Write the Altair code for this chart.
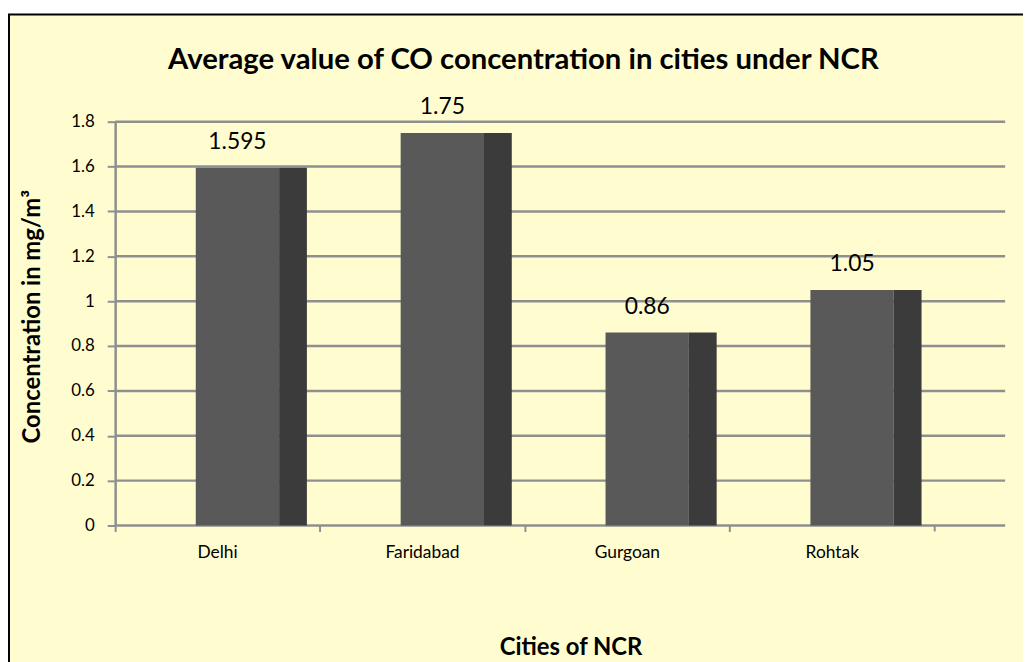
import altair as alt
import pandas as pd

cities = ["Delhi", "Faridabad", "Gurgoan", "Rohtak"]
co_values = [1.595, 1.75, 0.86, 1.05]
y_ticks = [0, 0.2, 0.4, 0.6, 0.8, 1.0, 1.2, 1.4, 1.6, 1.8]
chart_title = "Average value of CO concentration in cities under NCR"

FONT = "Lato"
W, H = 897, 407
BAND_RANGE = 826
YELLOW = "#FFFDCF"
GRID = "#8f8f8f"

df = pd.DataFrame({"city": cities, "value": co_values})
grid_df = pd.DataFrame({"value": y_ticks})
one = pd.DataFrame({"t": [chart_title]})

xscale = alt.Scale(domain=cities, range=[0, BAND_RANGE], paddingInner=0, paddingOuter=0)
yscale = alt.Scale(domain=[0, 1.8], nice=False, zero=True)

y_axis = alt.Axis(
    title="Concentration in mg/m³", values=y_ticks, labelExpr="format(datum.value, '~g')",
    domain=True, domainColor=GRID, domainWidth=2.5, ticks=True, tickSize=8,
    tickColor=GRID, tickWidth=2, labelPadding=13, labelFont=FONT, labelFontSize=17,
    labelColor="black", grid=False,
    titleFont=FONT, titleFontSize=24, titleFontWeight="bold", titleColor="black",
    titleX=-83, titleY=196, titleBaseline="middle", titleAlign="center", titleAngle=270,
    zindex=1,
)
y_enc = alt.Y("value:Q", scale=yscale, axis=y_axis)

x_enc = alt.X(
    "city:N", scale=xscale, sort=cities,
    axis=alt.Axis(
        title="Cities of NCR", domain=False, bandPosition=0, ticks=True, tickSize=6,
        tickColor=GRID, tickWidth=2, labelPadding=12, labelFont=FONT, labelFontSize=17.5,
        labelColor="black", labelAngle=0, labelAlign="center",
        titleFont=FONT, titleFontSize=24, titleFontWeight="bold", titleColor="black",
        titleX=459, titleY=123, titleBaseline="middle", titleAlign="center",
        zindex=1, grid=False,
    ),
)

frame = alt.Chart(one).mark_rect(fill=YELLOW, stroke="black", strokeWidth=2).encode(
    x=alt.value(-107), x2=alt.value(940), y=alt.value(-108), y2=alt.value(570)
)

title = alt.Chart(one).mark_text(
    font=FONT, fontSize=29.5, fontWeight="bold", color="black", align="center", baseline="middle"
).encode(text="t:N", x=alt.value(411.5), y=alt.value(-62))

grid = alt.Chart(grid_df).mark_rule(color=GRID, strokeWidth=2.5).encode(
    y=y_enc, x=alt.value(0), x2=alt.value(W),
)

end_tick = alt.Chart(one).mark_rule(color=GRID, strokeWidth=2).encode(
    x=alt.value(BAND_RANGE), y=alt.value(H), y2=alt.value(H + 6)
)

front = alt.Chart(df).mark_bar(width=84, xOffset=20, color="#595959").encode(x=x_enc, y=y_enc)
side = alt.Chart(df).mark_bar(width=28, xOffset=76, color="#3b3b3b").encode(x=x_enc, y=y_enc)
labels = alt.Chart(df).mark_text(dx=20, dy=-26, baseline="middle", font=FONT, fontSize=23, color="black").encode(
    x=x_enc, y=y_enc, text=alt.Text("value:Q", format="~g")
)

chart = alt.layer(frame, title, grid, front, side, labels, end_tick).properties(
    width=W, height=H,
    autosize=alt.AutoSizeParams(type="none"),
    padding={"left": 108, "top": 112, "right": 18, "bottom": 135},
    background="white",
).configure_view(strokeWidth=0)

chart.save("out.html", embed_options={"renderer": "svg", "actions": False})
